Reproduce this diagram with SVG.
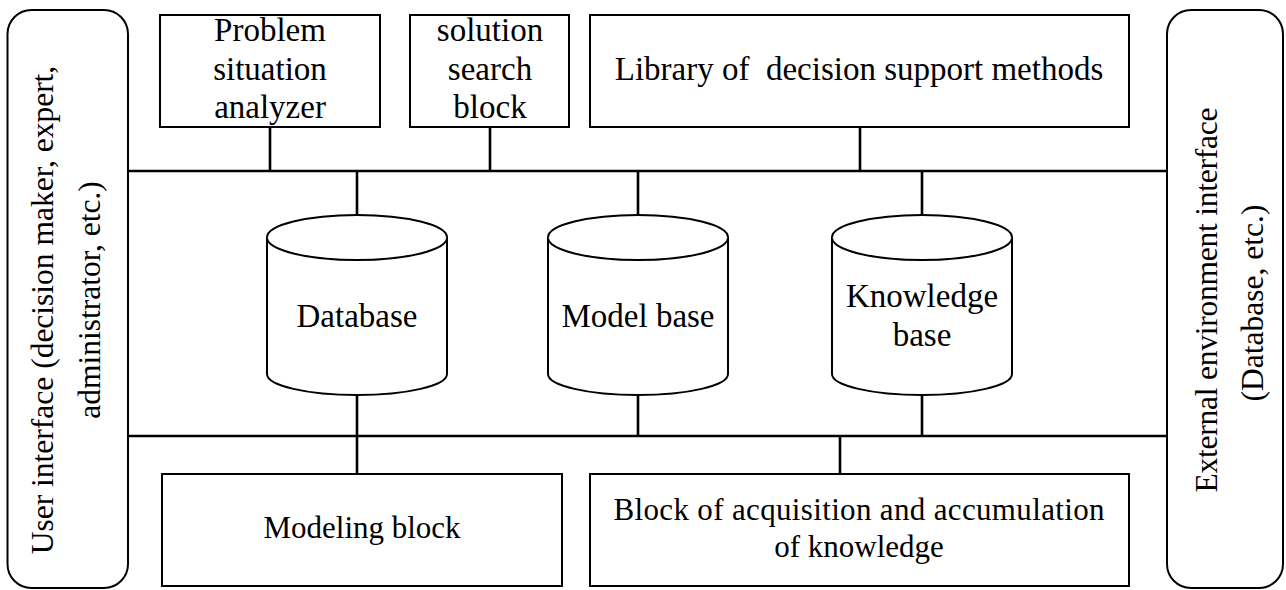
<svg xmlns="http://www.w3.org/2000/svg" width="1286" height="590" viewBox="0 0 1286 590">
<style>
  .box { fill: #fff; stroke: #000; stroke-width: 2; }
  .cyl { fill: #fff; stroke: #000; stroke-width: 2; }
  .ln { fill: none; stroke: #000; stroke-width: 2.6; }
  text { font-family: "Liberation Serif", "Times New Roman", serif; font-size: 33px; fill: #000; text-anchor: middle; }
  .b { font-size: 31px; }
  .side { font-size: 31.5px; }
</style>
<rect width="1286" height="590" fill="#fff"/>

<g id="connectors">
  <path class="ln" d="M128 171 H1167 M128 436 H1167"/>
  <path class="ln" d="M270 127 V171 M490 127 V171 M860 127 V171"/>
  <path class="ln" d="M357 171 V215 M638 171 V215 M922 171 V215"/>
  <path class="ln" d="M357 395 V474 M638 395 V436 M922 395 V436"/>
  <path class="ln" d="M840 436 V474"/>
</g>

<g id="user-interface">
  <rect class="box" x="7.5" y="10" width="120.5" height="578" rx="24" ry="24"/>
  <text class="side" transform="translate(53,310) rotate(-90)">User interface (decision maker, expert,</text>
  <text class="side" transform="translate(100,300) rotate(-90)">administrator, etc.)</text>
</g>

<g id="external-interface">
  <rect class="box" x="1167" y="10" width="116" height="578" rx="24" ry="24"/>
  <text class="side" transform="translate(1217,300) rotate(-90)" textLength="385">External environment interface</text>
  <text class="side" transform="translate(1263,303) rotate(-90)">(Database, etc.)</text>
</g>

<g id="problem-analyzer">
  <rect class="box" x="160" y="15" width="220" height="112"/>
  <text x="270" y="41">Problem</text>
  <text x="270" y="80">situation</text>
  <text x="270" y="118">analyzer</text>
</g>

<g id="solution-search">
  <rect class="box" x="410" y="15" width="159" height="112"/>
  <text x="490" y="41">solution</text>
  <text x="490" y="80">search</text>
  <text x="490" y="118">block</text>
</g>

<g id="library">
  <rect class="box" x="590" y="15" width="539" height="112"/>
  <text x="859" y="80" xml:space="preserve">Library of  decision support methods</text>
</g>

<g id="database">
  <path class="cyl" d="M267 237.5 V374 A90 21 0 0 0 447 374 V237.5 A90 22.5 0 0 0 267 237.5 Z"/>
  <path class="cyl" d="M267 237.5 A90 22.5 0 0 0 447 237.5"/>
  <text x="357" y="327">Database</text>
</g>

<g id="model-base">
  <path class="cyl" d="M548 237.5 V374 A90 21 0 0 0 728 374 V237.5 A90 22.5 0 0 0 548 237.5 Z"/>
  <path class="cyl" d="M548 237.5 A90 22.5 0 0 0 728 237.5"/>
  <text x="638" y="327">Model base</text>
</g>

<g id="knowledge-base">
  <path class="cyl" d="M832 237.5 V374 A90 21 0 0 0 1012 374 V237.5 A90 22.5 0 0 0 832 237.5 Z"/>
  <path class="cyl" d="M832 237.5 A90 22.5 0 0 0 1012 237.5"/>
  <text x="922" y="307">Knowledge</text>
  <text x="922" y="346">base</text>
</g>

<g id="modeling-block">
  <rect class="box" x="162" y="474" width="400" height="112"/>
  <text class="b" x="362" y="538" textLength="197">Modeling block</text>
</g>

<g id="acquisition-block">
  <rect class="box" x="590" y="474" width="539" height="112"/>
  <text class="b" x="859" y="520" textLength="491">Block of acquisition and accumulation</text>
  <text class="b" x="859" y="557">of knowledge</text>
</g>
</svg>
